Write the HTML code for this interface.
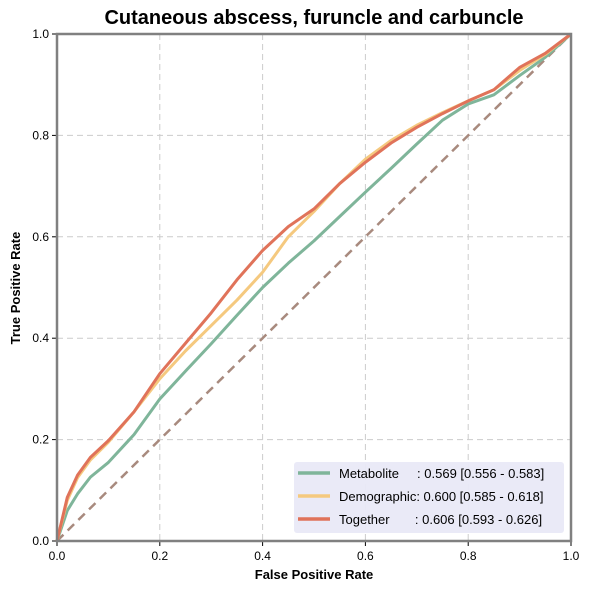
<!DOCTYPE html>
<html><head><meta charset="utf-8"><style>body{margin:0;background:#fff}svg{display:block;font-family:"Liberation Sans",Arial,sans-serif}</style></head>
<body>
<svg id="chart" width="591" height="592">
<text x="314" y="24" text-anchor="middle" font-size="20" font-weight="bold">Cutaneous abscess, furuncle and carbuncle</text>
<g id="grid"></g><g id="ticks"></g><g id="series"></g>
<rect x="57" y="34" width="514" height="507" fill="none" stroke="#808080" stroke-width="2.5"/>
<text x="314" y="579" text-anchor="middle" font-size="13" font-weight="bold">False Positive Rate</text>
<text transform="translate(20,288) rotate(-90)" text-anchor="middle" font-size="13" font-weight="bold">True Positive Rate</text>
<g>
<rect x="294" y="462" width="270" height="71" rx="3" fill="#e9e9f7" opacity="0.95"/>
<line x1="298" y1="473" x2="330" y2="473" stroke="#7fb59a" stroke-width="3.5"/>
<text x="339" y="478" font-size="13">Metabolite&#160;&#160;&#160;&#160; : 0.569 [0.556 - 0.583]</text>
<line x1="298" y1="496" x2="330" y2="496" stroke="#f5c97f" stroke-width="3.5"/>
<text x="339" y="501" font-size="13">Demographic: 0.600 [0.585 - 0.618]</text>
<line x1="298" y1="519" x2="330" y2="519" stroke="#e0735a" stroke-width="3.5"/>
<text x="339" y="524" font-size="13">Together&#160;&#160;&#160;&#160;&#160;&#160; : 0.606 [0.593 - 0.626]</text>
</g>
</svg>
<script>
const fpr=[0,0.02,0.04,0.065,0.1,0.15,0.2,0.25,0.3,0.35,0.4,0.45,0.5,0.55,0.6,0.65,0.7,0.75,0.8,0.85,0.9,0.95,1];
const tprMetabolite=[0,0.06,0.093,0.126,0.155,0.21,0.28,0.335,0.389,0.445,0.5,0.548,0.592,0.64,0.688,0.735,0.783,0.83,0.862,0.88,0.918,0.954,1];
const tprDemographic=[0,0.08,0.125,0.16,0.195,0.255,0.32,0.375,0.425,0.475,0.53,0.6,0.65,0.705,0.753,0.79,0.82,0.845,0.868,0.89,0.928,0.96,1];
const tprTogether=[0,0.086,0.13,0.165,0.198,0.255,0.33,0.39,0.45,0.515,0.573,0.62,0.655,0.705,0.747,0.785,0.816,0.843,0.868,0.89,0.934,0.962,1];
const tickVals=[0,0.2,0.4,0.6,0.8,1];
const tickLabels=["0.0","0.2","0.4","0.6","0.8","1.0"];
const NS="http://www.w3.org/2000/svg";
const X=v=>57+514*v, Y=v=>541-507*v;
function mk(tag,attrs,parent){const e=document.createElementNS(NS,tag);for(const k in attrs)e.setAttribute(k,attrs[k]);parent.appendChild(e);return e;}
const grid=document.getElementById('grid'),ticks=document.getElementById('ticks'),series=document.getElementById('series');
tickVals.forEach((v,i)=>{
 if(v>0&&v<1){
  const gx=mk('line',{x1:X(v),x2:X(v),y1:34,y2:541,stroke:'#cccccc','stroke-dasharray':'6,4'},grid);
  
  const gy=mk('line',{x1:57,x2:571,y1:Y(v),y2:Y(v),stroke:'#cccccc','stroke-dasharray':'6,4'},grid);
  
 }
 mk('line',{x1:X(v),x2:X(v),y1:541,y2:546,stroke:'#000'},ticks);
 mk('line',{x1:52,x2:57,y1:Y(v),y2:Y(v),stroke:'#000'},ticks);
 const tx=mk('text',{x:X(v),y:560,'text-anchor':'middle','font-size':12},ticks);tx.textContent=tickLabels[i];
 
 const ty=mk('text',{x:49,y:Y(v)+4,'text-anchor':'end','font-size':12},ticks);ty.textContent=tickLabels[i];
 
});
const diag=mk('line',{x1:X(0),y1:Y(0),x2:X(1),y2:Y(1),stroke:'#a88a7e','stroke-width':2.5,'stroke-dasharray':'9,6'},series);

[[tprMetabolite,'#7fb59a','metabolite-roc-line'],[tprDemographic,'#f5c97f','demographic-roc-line'],[tprTogether,'#e0735a','together-roc-line']].forEach(([t,c,n])=>{
 const p=mk('polyline',{points:fpr.map((f,i)=>X(f)+','+Y(t[i])).join(' '),fill:'none',stroke:c,'stroke-width':3,'stroke-linejoin':'round'},series);
 
 
});
</script>
</body></html>
